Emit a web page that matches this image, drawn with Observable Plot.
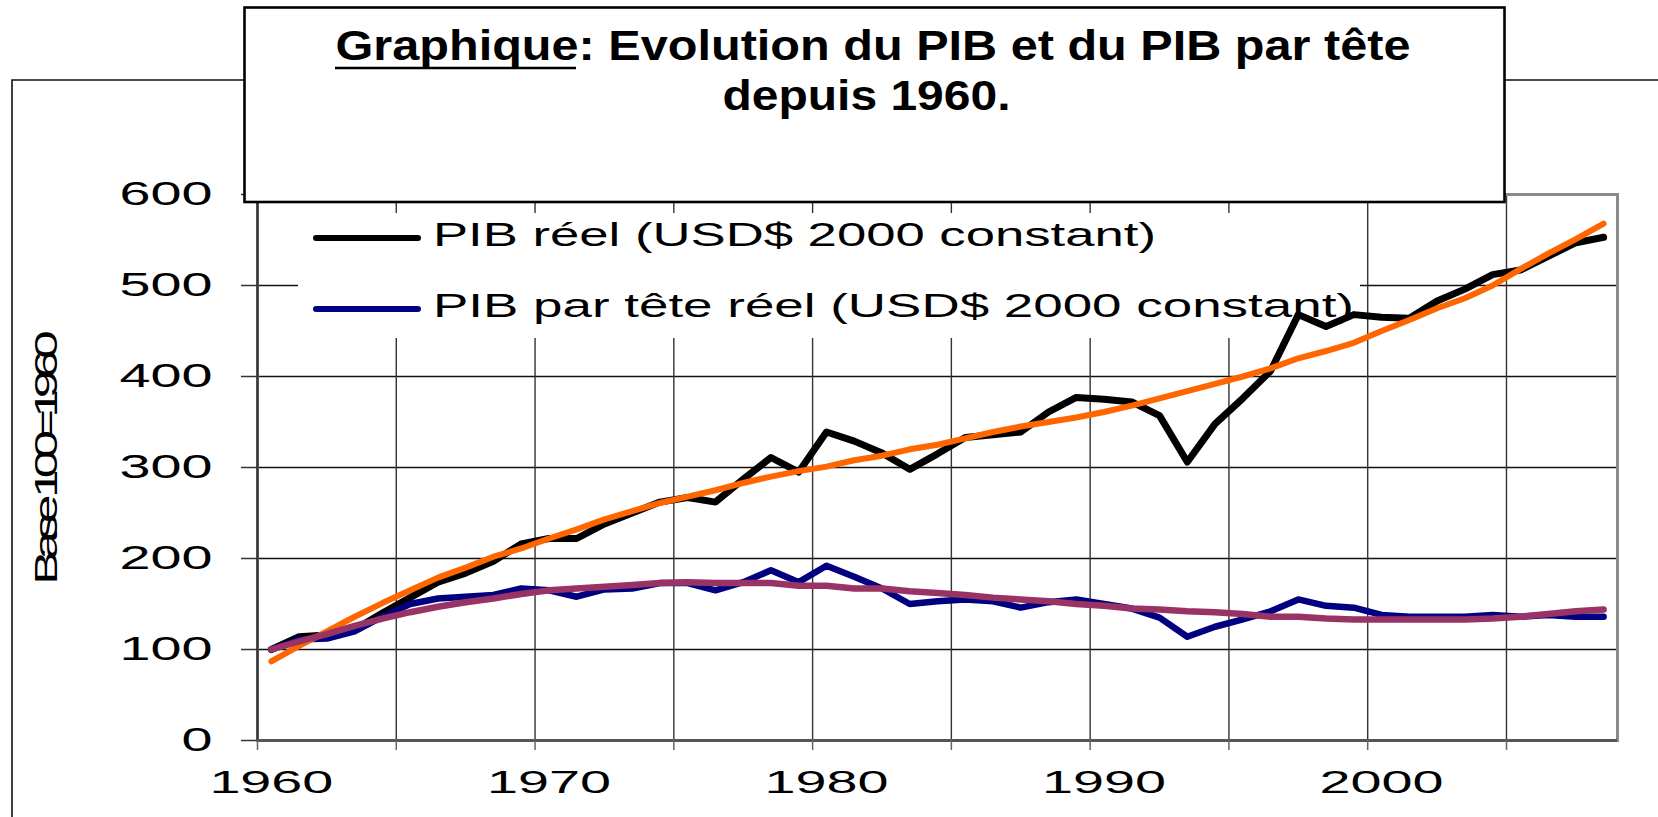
<!DOCTYPE html>
<html>
<head>
<meta charset="utf-8">
<script src="https://cdn.jsdelivr.net/npm/d3@7"></script>
<script src="https://cdn.jsdelivr.net/npm/@observablehq/plot@0.6"></script>
<style>
  html, body { margin: 0; padding: 0; background: white; }
  #chart { position: relative; width: 1658px; height: 817px; overflow: hidden; }
</style>
</head>
<body>
<div id="chart"></div>
<script>
// ---- Data ----
const years = [1960,1961,1962,1963,1964,1965,1966,1967,1968,1969,
               1970,1971,1972,1973,1974,1975,1976,1977,1978,1979,
               1980,1981,1982,1983,1984,1985,1986,1987,1988,1989,
               1990,1991,1992,1993,1994,1995,1996,1997,1998,1999,
               2000,2001,2002,2003,2004,2005,2006,2007,2008];

// PIB réel (base 100 = 1960)
const pib = [100,114,116,122,140,157,174,184,197,216,
             222,222,238,250,262,267,262,287,311,295,
             339,329,316,298,315,333,336,339,361,377,
             375,372,357,306,348,376,406,468,455,468,
             465,464,483,496,512,517,532,547,553];

// PIB par tête réel (base 100 = 1960)
const pibTete = [100,111,112,120,136,150,156,158,160,167,
                 165,158,166,167,173,173,165,174,187,174,
                 192,180,167,150,153,155,153,146,152,155,
                 150,145,135,114,125,133,142,155,148,146,
                 138,136,136,136,138,136,138,136,136];

// Tendance du PIB (courbe orange)
const tendPib = [87,104,120,136,151,165,179,190,202,211,
                 222,232,243,252,261,268,275,283,290,296,
                 301,308,313,320,325,332,339,345,350,355,
                 361,368,376,384,392,400,409,420,428,437,
                 450,462,475,486,500,518,535,551,568];

// Tendance du PIB par tête (courbe violette)
const tendTete = [100,109,117,126,134,141,147,152,156,161,
                  165,167,169,171,173,174,173,173,173,170,
                  170,167,167,164,162,160,157,155,153,150,
                  148,145,144,142,141,139,136,136,134,133,
                  133,133,133,133,134,136,139,142,144];

const yTicks = [0, 100, 200, 300, 400, 500, 600];
const xLabels = [1960, 1970, 1980, 1990, 2000];
// category boundaries every 5 years (Excel category axis)
const xBoundaries = years.filter(y => y % 5 === 0).map(y => y - 0.5);

const legendLabels = ["PIB réel (USD$ 2000 constant)", "PIB par tête réel (USD$ 2000 constant)"];
const titleLine1a = "Graphique";
const titleLine1b = ": Evolution du PIB et du PIB par tête";
const titleLine2 = "depuis 1960.";
const yTitle = "Base 100=1960";

const series = [
  {name: "PIB", values: pib, color: "#000000", width: 7},
  {name: "PIBtete", values: pibTete, color: "#000080", width: 6.5},
  {name: "tendPIB", values: tendPib, color: "#FF6600", width: 6},
  {name: "tendTete", values: tendTete, color: "#993366", width: 6.5}
];
const rows = s => years.map((year, i) => ({year, value: s.values[i]}));

const NS = "http://www.w3.org/2000/svg";
function el(tag, attrs, text) {
  const e = document.createElementNS(NS, tag);
  for (const k in attrs) e.setAttribute(k, attrs[k]);
  if (text != null) e.textContent = text;
  return e;
}
const FONT = "'Liberation Sans', Arial, Helvetica, sans-serif";
const FONT_NARROW = "'Liberation Sans Narrow', 'Arial Narrow', 'Liberation Sans', Arial, sans-serif";

// legend background (hides gridlines under the legend)
function legendBg() {
  const g = el("g", {});
  g.appendChild(el("rect", {x: 298, y: 213, width: 1062, height: 125, fill: "white"}));
  return g;
}
function legendFg() {
  const g = el("g", {"font-family": FONT, "text-anchor": "start"});
  const entries = [
    {label: legendLabels[0], color: series[0].color, ly: 238, ty: 246, len: 723},
    {label: legendLabels[1], color: series[1].color, ly: 309, ty: 317, len: 921}
  ];
  for (const e of entries) {
    g.appendChild(el("line", {x1: 316, x2: 418, y1: e.ly, y2: e.ly, stroke: e.color, "stroke-width": 6, "stroke-linecap": "round"}));
    g.appendChild(el("text", {x: 433, y: e.ty, "font-size": 34, fill: "black", "text-anchor": "start",
      textLength: e.len, lengthAdjust: "spacingAndGlyphs"}, e.label));
  }
  return g;
}
function decorations() {
  const g = el("g", {});
  // outer chart-area border
  g.appendChild(el("path", {d: "M12,817 L12,80 L1658,80", fill: "none", stroke: "#111", "stroke-width": 1.6}));
  // y title
  const yt = el("text", {transform: "translate(57,462) rotate(-90) scale(1.6,1)", "text-anchor": "middle",
    "font-family": FONT, "font-size": 32, "letter-spacing": -5.5, fill: "black"}, yTitle);
  g.appendChild(yt);
  // title box
  g.appendChild(el("rect", {x: 244.5, y: 7.5, width: 1260, height: 194.5, fill: "white", stroke: "black", "stroke-width": 2.6}));
  const t1 = el("text", {x: 873, y: 60, "text-anchor": "middle", "font-family": FONT_NARROW, "font-weight": "bold",
    "font-size": 42, fill: "black", textLength: 1075, lengthAdjust: "spacingAndGlyphs"});
  const ts1 = el("tspan", {}, titleLine1a);
  const ts2 = el("tspan", {}, titleLine1b);
  t1.appendChild(ts1); t1.appendChild(ts2);
  g.appendChild(t1);
  g.appendChild(el("line", {x1: 335, x2: 576, y1: 68, y2: 68, stroke: "black", "stroke-width": 2.6}));
  g.appendChild(el("text", {x: 866.5, y: 110, "text-anchor": "middle", "font-family": FONT_NARROW, "font-weight": "bold",
    "font-size": 42, fill: "black", textLength: 288, lengthAdjust: "spacingAndGlyphs"}, titleLine2));
  return g;
}

const marks = [
  Plot.ruleY(yTicks.filter(v => v > 0 && v < 600), {stroke: "#111", strokeWidth: 1.5}),
  Plot.ruleX(xBoundaries.slice(1), {stroke: "#333", strokeWidth: 1.4}),
  Plot.frame({stroke: "#8a8a8a", strokeWidth: 3}),
  Plot.ruleX([xBoundaries[0]], {stroke: "#333", strokeWidth: 2.2}),
  Plot.ruleY([0], {stroke: "#555", strokeWidth: 3}),
  Plot.axisY(yTicks, {tickSize: 16, tickFormat: () => "", stroke: "#333", strokeWidth: 1.5, label: null}),
  Plot.axisX(xBoundaries, {tickSize: 10, tickFormat: () => "", stroke: "#666", strokeWidth: 1.5, label: null}),
  Plot.text(yTicks, {y: d => d, text: d => String(d), frameAnchor: "left", dx: -45, textAnchor: "end",
    fontSize: 32.5, fill: "black"}),
  Plot.text(xLabels, {x: d => d, text: d => String(d), frameAnchor: "bottom", dy: 52,
    fontSize: 31, fill: "black"}),
  legendBg,
  ...series.map(s => Plot.line(rows(s), {x: "year", y: "value", stroke: s.color, strokeWidth: s.width,
    strokeLinejoin: "round", strokeLinecap: "round"})),
  legendFg,
  decorations
];

const svg = Plot.plot({
  width: 1658,
  height: 817,
  marginLeft: 257,
  marginRight: 41,
  marginTop: 194,
  marginBottom: 77,
  style: {fontFamily: FONT, background: "white", color: "black", overflow: "visible"},
  x: {type: "linear", domain: [1959.5, 2008.5], axis: null},
  y: {type: "linear", domain: [0, 600], axis: null},
  marks
});

// horizontally stretched numeric labels, as in the reference
svg.querySelectorAll("text").forEach(t => {
  const s = t.textContent.trim();
  if (/^\d+$/.test(s)) {
    t.setAttribute("textLength", 31 * s.length);
    t.setAttribute("lengthAdjust", "spacingAndGlyphs");
  }
});

document.getElementById("chart").appendChild(svg);
</script>
</body>
</html>
